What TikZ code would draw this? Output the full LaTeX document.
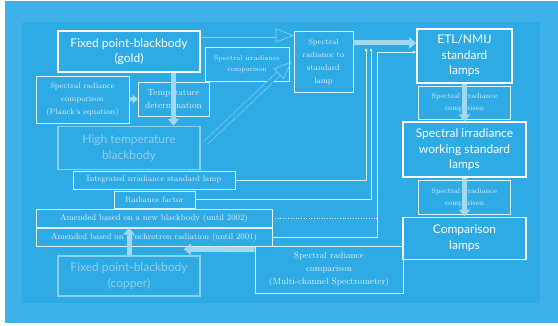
\documentclass[tikz,border=0pt]{standalone}
\usepackage{fontspec}
\setsansfont{Lato}
\usepackage{tikz}
\usetikzlibrary{arrows.meta,positioning,calc}

\definecolor{bgouter}{RGB}{62,178,232}
\definecolor{bginner}{RGB}{46,170,228}
\colorlet{fade}{white!45!bginner}
\colorlet{arrowfill}{white!55!bginner}
\colorlet{softwhite}{white!85!bginner}

\begin{document}
\begin{tikzpicture}[x=1pt, y=-1pt, node distance=2pt,
        mainbox/.style={rectangle, draw=white, line width=1.6pt, text=white, align=center, inner sep=0pt, font=\sffamily\fontsize{12}{15.5}\selectfont},
        fadedbox/.style={mainbox, draw=fade, text=fade},
        smallbox/.style={rectangle, draw=softwhite, line width=0.6pt, text=softwhite, align=center, inner sep=0pt, font=\fontsize{8}{13}\selectfont},
        bigarrow/.style={draw=arrowfill, line width=5pt, -{Triangle[width=11pt,length=7pt]}},
        hollowarrow/.style={draw=fade, line width=0.6pt, double=bginner, double distance=4pt, -{Triangle[open, line width=0.6pt, width=14pt, length=18pt]}},
        link/.style={draw=softwhite, line width=0.6pt, -{Latex[length=3pt,width=3pt]}}]

        % Background
        \fill[white] (0,0) rectangle (558,326);
        \fill[bgouter] (5,1) rectangle (558,323);
        \fill[bginner] (22,22) rectangle (540,303);
        \useasboundingbox (0,0) rectangle (558,326);

        % Left column
        \node (gold) [mainbox, minimum width=142pt, minimum height=41pt] at (129,51.5) {Fixed point-blackbody\\(gold)};
        \node (planck) [smallbox, minimum width=93pt, minimum height=47pt] at (82.5,99.5) {Spectral radiance\\comparison\\(Planck's equation)};
        \node (tempdet) [smallbox, minimum width=71pt, minimum height=34pt, font=\fontsize{9}{13}\selectfont] at (173.5,99) {Temperature\\determination};
        \node (hightemp) [fadedbox, minimum width=142pt, minimum height=43pt, below=53pt of gold] {High temperature\\blackbody};

        % Middle
        \node (sirrcomp) [smallbox, minimum width=84pt, minimum height=34pt, font=\fontsize{7}{11}\selectfont] at (247,64) {Spectral irradiance\\comparison};
        \node (sr2lamp) [smallbox, minimum width=59pt, minimum height=61pt] at (323.5,61.5) {Spectral\\radiance to\\standard\\lamp};

        % Right column
        \node (etl) [mainbox, minimum width=95pt, minimum height=54pt] at (464.5,56) {ETL/NMIJ\\standard\\lamps};
        \node (comp1) [smallbox, minimum width=92pt, minimum height=33pt, font=\fontsize{7.5}{12}\selectfont, below=of etl] {Spectral irradiance\\comparison};
        \node (working) [mainbox, minimum width=123pt, minimum height=55pt, below=of comp1] {Spectral irradiance\\working standard\\lamps};
        \node (comp2) [smallbox, minimum width=92pt, minimum height=34pt, font=\fontsize{7.5}{12}\selectfont, below=of working] {Spectral irradiance\\comparison};
        \node (complamps) [mainbox, minimum width=123pt, minimum height=42pt, below=of comp2] {Comparison\\lamps};
        \node (multi) [smallbox, minimum width=148pt, minimum height=47pt, font=\fontsize{9}{13}\selectfont] at (329,269.5) {Spectral radiance\\comparison\\(Multi-channel Spectrometer)};

        % Bottom left
        \node (integ) [smallbox, minimum width=162pt, minimum height=18pt] at (154,180) {Integrated irradiance standard lamp};
        \node (radfac) [smallbox, minimum width=81pt, minimum height=17pt] at (154.5,199.5) {Radiance factor};
        \node (newbb) [smallbox, minimum width=236pt, minimum height=18pt, font=\fontsize{8.5}{13}\selectfont] at (154,218) {Amended based on a new blackbody (until 2002)};
        \node (synch) [smallbox, minimum width=236pt, minimum height=18pt, font=\fontsize{8.5}{13}\selectfont] at (154,237) {Amended based on synchrotron radiation (until 2001)};
        \node (copper) [fadedbox, minimum width=142pt, minimum height=40pt] at (129,276) {Fixed point-blackbody\\(copper)};

        % Arrows
        \draw[bigarrow] (gold.south -| tempdet) -- (hightemp.north -| tempdet);
        \draw[bigarrow, line width=4pt, -{Triangle[width=9pt,length=5pt]}] (planck) -- (tempdet);
        \draw[hollowarrow] ([yshift=16pt]gold.east) -- ([yshift=16pt]gold.east -| sr2lamp.west);
        \draw[hollowarrow] ([xshift=5pt,yshift=5.5pt]hightemp.east) -- ([xshift=-2pt]sr2lamp.west);
        \draw[bigarrow] ([yshift=18.5pt]sr2lamp.east) -- ([yshift=18.5pt]sr2lamp.east -| etl.west);
        \draw[bigarrow] (etl) -- (working);
        \draw[bigarrow] (working) -- (complamps);
        \draw[bigarrow] (copper.north) -- (copper.north |- synch.north);
        \draw[bigarrow] ([yshift=-4pt]multi.north west) -- ([xshift=-17pt,yshift=6pt]copper.north east);

        % Lines to the standard lamps
        \coordinate (up1) at (366,48);
        \coordinate (up2) at (371,48);
        \coordinate (bend) at (377,52);
        \draw[link] (integ.east) -| (up1);
        \draw[link] (radfac.east) -| (up2);
        \draw[link] (synch.east) -| (bend) -- (bend -| etl.west);
        \draw[softwhite, line width=0.6pt, dotted] (newbb.east) -- (newbb.east -| bend);
\end{tikzpicture}
\end{document}
